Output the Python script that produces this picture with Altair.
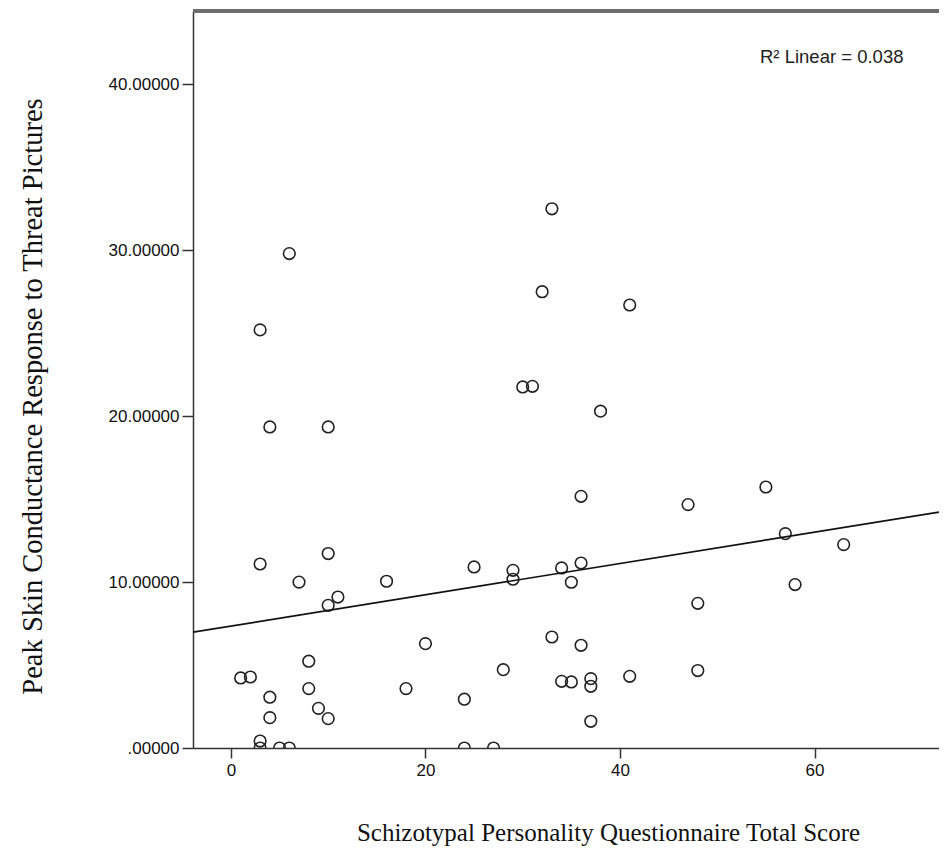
import altair as alt
import pandas as pd

# SPQ total score (x) and peak SCR to threat pictures (y)
spq_score = [1, 2, 3, 3, 3, 3, 4, 4, 4, 5, 6, 6, 7, 8, 8, 9, 10, 10, 10, 10,
             11, 16, 18, 20, 24, 24, 25, 27, 28, 29, 29, 30, 31, 32, 33, 33,
             34, 34, 35, 35, 36, 36, 36, 37, 37, 37, 38, 41, 41, 47, 48, 48,
             55, 57, 58, 63]
peak_scr = [4.22, 4.28, 25.2, 11.09, 0.42, 0.0, 19.35, 3.06, 1.83, 0.0, 29.8,
            0.0, 10.0, 5.23, 3.58, 2.39, 19.35, 11.72, 8.6, 1.77, 9.1, 10.05,
            3.58, 6.29, 2.94, 0.0, 10.91, 0.0, 4.72, 10.71, 10.17, 21.76, 21.8,
            27.5, 32.5, 6.69, 10.85, 4.02, 9.99, 3.98, 15.17, 11.15, 6.19, 4.18,
            3.72, 1.61, 20.3, 26.7, 4.32, 14.67, 8.72, 4.67, 15.73, 12.92, 9.85,
            12.26]
x_ticks = [0, 20, 40, 60]
y_ticks = [0, 10, 20, 30, 40]
x_domain = [-3.9, 72.8]
y_domain = [0, 44.42]
r2_label = "R\u00b2 Linear = 0.038"

df = pd.DataFrame({"spq": spq_score, "scr": peak_scr})

W, H = 746, 737

x_enc = alt.X(
    "spq:Q",
    scale=alt.Scale(domain=x_domain, nice=False, zero=False),
    axis=alt.Axis(
        values=x_ticks, grid=False, format="d",
        title="Schizotypal Personality Questionnaire Total Score",
        titleFont="Liberation Serif", titleFontSize=25, titleFontWeight="normal",
        titleColor="#111", titleX=415, titleY=84, titleAlign="center",
        titleBaseline="middle",
        labelFont="Liberation Sans", labelFontSize=17, labelColor="#111",
        labelPadding=4, tickSize=10, tickColor="#333", tickWidth=1.5,
        domainColor="#333", domainWidth=1.5,
    ),
)
y_enc = alt.Y(
    "scr:Q",
    scale=alt.Scale(domain=y_domain, nice=False, zero=False),
    axis=alt.Axis(
        values=y_ticks, grid=False,
        labelExpr="datum.value == 0 ? '.00000' : format(datum.value, '.5f')",
        title="Peak Skin Conductance Response to Threat Pictures",
        titleFont="Liberation Serif", titleFontSize=28.5, titleFontWeight="normal",
        titleColor="#111", titleX=-161, titleY=385, titleAngle=270,
        titleAlign="center", titleBaseline="middle",
        labelFont="Liberation Sans", labelFontSize=17, labelColor="#111",
        labelPadding=3, tickSize=11, tickColor="#333", tickWidth=1.5,
        domainColor="#333", domainWidth=1.5,
    ),
)

frame_top = alt.Chart(df).mark_rule(color="#6e6e6e", strokeWidth=2.5).encode(
    x=alt.value(0), x2=alt.value(W), y=alt.value(0)
)

points = alt.Chart(df).mark_point(
    shape="circle", filled=False, size=135, strokeWidth=1.6, color="#222",
    clip=True, opacity=1,
).encode(x=x_enc, y=y_enc)

fit = alt.Chart(df).transform_regression(
    "spq", "scr", method="linear", extent=x_domain
).mark_line(color="#111", strokeWidth=1.7, clip=True).encode(
    x="spq:Q", y="scr:Q"
)

note = alt.Chart(pd.DataFrame({"t": [r2_label]})).mark_text(
    align="left", baseline="alphabetic", font="Liberation Sans",
    fontSize=18.5, color="#222",
).encode(x=alt.value(567), y=alt.value(52), text="t:N")

chart = alt.layer(points, fit, frame_top, note).properties(
    width=W, height=H,
    autosize=alt.AutoSizeParams(type="none"),
    padding={"left": 185, "top": 3, "right": 0, "bottom": 110},
).configure_view(strokeWidth=0).configure(background="white")

chart.save("out.html", embed_options={"renderer": "svg", "actions": False})
